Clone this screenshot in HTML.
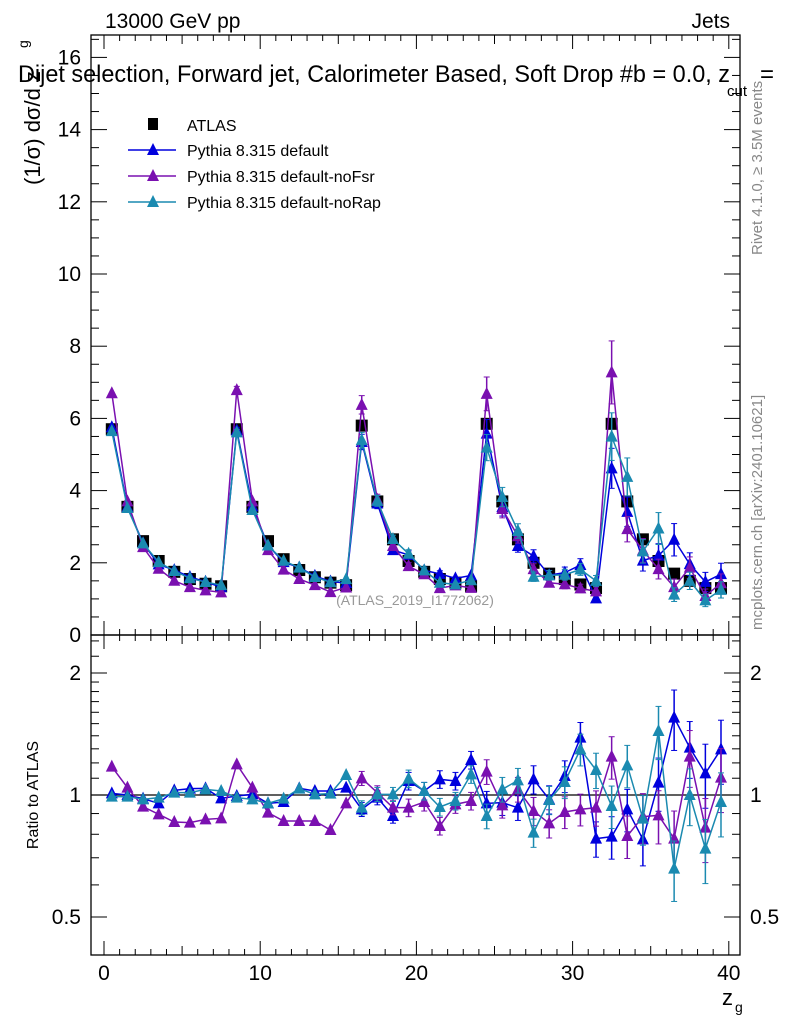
<!DOCTYPE html>
<html><head><meta charset="utf-8"><style>
body{margin:0;background:#fff;}
svg text{font-family:"Liberation Sans",sans-serif;}
</style></head><body>
<svg id="c" width="786" height="1024" xmlns="http://www.w3.org/2000/svg"></svg>
<script>
const bins=[0.5,1.5,2.5,3.5,4.5,5.5,6.5,7.5,8.5,9.5,10.5,11.5,12.5,13.5,14.5,15.5,16.5,17.5,18.5,19.5,20.5,21.5,22.5,23.5,24.5,25.5,26.5,27.5,28.5,29.5,30.5,31.5,32.5,33.5,34.5,35.5,36.5,37.5,38.5,39.5];
const atlasVals=[5.7,3.55,2.6,2.05,1.75,1.55,1.42,1.35,5.7,3.55,2.6,2.1,1.8,1.6,1.45,1.38,5.8,3.7,2.65,2.05,1.75,1.55,1.45,1.35,5.85,3.7,2.65,2.0,1.7,1.55,1.4,1.3,5.85,3.7,2.65,2.05,1.7,1.5,1.3,1.3];
const defaultPx=[342,347,358,372,333,328,327,357,350,345,372,368,327,335,335,325,390,355,410,305,335,300,305,242,372,370,385,300,360,290,175,478,472,390,480,310,115,205,282,210];
const noFsrPx=[262,325,382,405,428,430,420,417,255,325,400,425,425,425,452,372,297,340,385,385,368,440,375,365,277,378,330,395,432,398,390,385,232,470,412,408,478,232,445,295];
const noRapPx=[352,352,360,355,340,340,330,335,355,360,372,358,328,345,343,287,385,345,345,298,335,383,365,285,410,330,303,460,362,308,210,272,380,258,418,155,568,347,508,368];
const relErr=[0.01,0.01,0.01,0.01,0.01,0.01,0.01,0.01,0.015,0.015,0.015,0.015,0.015,0.015,0.015,0.015,0.04,0.04,0.04,0.05,0.05,0.05,0.05,0.05,0.07,0.07,0.07,0.08,0.08,0.09,0.09,0.1,0.12,0.12,0.14,0.15,0.17,0.16,0.18,0.18];
const yTicks=[0,2,4,6,8,10,12,14,16];
const xTicks=[0,10,20,30,40];
const rTicks=[0.5,1,2];
const toR=a=>a.map(v=>Math.exp((347-v)/528));
const ratios=[toR(defaultPx),toR(noFsrPx),toR(noRapPx)];
const names=["Pythia 8.315 default","Pythia 8.315 default-noFsr","Pythia 8.315 default-noRap"];
const colors=["#0000dd","#7a10b0","#1a8ab0"];

const L=91,R=740,T=35,B=635,RB=955;
const X=v=>104+v*15.62;
const Y=v=>635-v*36.1;
const RY=r=>795-176*Math.log(r);
const svg=document.getElementById('c');
const NS="http://www.w3.org/2000/svg";
function mk(t,a,p){const e=document.createElementNS(NS,t);for(const k in a)e.setAttribute(k,a[k]);(p||svg).appendChild(e);return e;}
function txt(s,a){const e=mk('text',a);e.textContent=s;return e;}

const defs=mk('defs',{});
const c1=mk('clipPath',{id:'cm'},defs);mk('rect',{x:L,y:T,width:R-L,height:B-T},c1);
const c2=mk('clipPath',{id:'cr'},defs);mk('rect',{x:L,y:B,width:R-L,height:RB-B},c2);

const f1=mk('rect',{x:L,y:T,width:R-L,height:B-T,fill:'none',stroke:'#000','stroke-width':1.3});

const f2=mk('rect',{x:L,y:B,width:R-L,height:RB-B,fill:'none',stroke:'#000','stroke-width':1.3});


for(let v=0;v<=40;v++){
 const major=v%10===0, mid=v%5===0;
 const len=major?14:(mid?9:6);
 for(const [yb,yt] of [[B,T],[RB,B]]){
  mk('line',{x1:X(v),x2:X(v),y1:yb,y2:yb-len,stroke:'#000'});
  mk('line',{x1:X(v),x2:X(v),y1:yt,y2:yt+len,stroke:'#000'});
 }
}
xTicks.forEach(v=>{const t=txt(String(v),{x:X(v),y:980,'font-size':21,'text-anchor':'middle'});
 });
for(let v=0;v<=16.6;v+=0.5){
 const major=Math.abs(v%2)<1e-6;const len=major?16:8;
 mk('line',{x1:L,x2:L+len,y1:Y(v),y2:Y(v),stroke:'#000'});
 mk('line',{x1:R,x2:R-len,y1:Y(v),y2:Y(v),stroke:'#000'});
}
yTicks.forEach(v=>{const t=txt(String(v),{x:81,y:Y(v)+7,'font-size':21,'text-anchor':'end'});
 });
const rminor=[0.5,0.6,0.7,0.8,0.9,1,1.1,1.2,1.3,1.4,1.5,1.6,1.7,1.8,1.9,2,2.2,2.4];
rminor.forEach(r=>{const major=rTicks.includes(r);const len=major?16:8;
 mk('line',{x1:L,x2:L+len,y1:RY(r),y2:RY(r),stroke:'#000'});
 mk('line',{x1:R,x2:R-len,y1:RY(r),y2:RY(r),stroke:'#000'});});
rTicks.forEach(r=>{
 const a=txt(String(r),{x:81,y:RY(r)+7,'font-size':21,'text-anchor':'end'});
 
 const b=txt(String(r),{x:750,y:RY(r)+7,'font-size':21,'text-anchor':'start'});
 });
mk('line',{x1:L,x2:R,y1:RY(1),y2:RY(1),stroke:'#000','stroke-width':1.3});

let t;
t=txt('13000 GeV pp',{x:105,y:28,'font-size':21});
t=txt('Jets',{x:730,y:28,'font-size':21,'text-anchor':'end'});
t=txt('(ATLAS_2019_I1772062)',{x:415,y:605,'font-size':14,fill:'#999','text-anchor':'middle'});
t=txt('z',{x:722,y:1005,'font-size':22});
txt('g',{x:735,y:1012,'font-size':14});
t=txt('Ratio to ATLAS',{x:0,y:0,'font-size':16,'text-anchor':'middle',transform:'translate(38,795) rotate(-90)'});
t=txt('(1/σ) dσ/d z',{x:0,y:0,'font-size':22,'text-anchor':'start',transform:'translate(40,185) rotate(-90)'});
txt('g',{x:0,y:0,'font-size':14,transform:'translate(28,48) rotate(-90)'});
t=txt('Dijet selection, Forward jet, Calorimeter Based, Soft Drop #b = 0.0, z',{x:18,y:82,'font-size':24,textLength:712,lengthAdjust:'spacingAndGlyphs'});
txt('cut',{x:727,y:96,'font-size':15});
txt('=',{x:760,y:82,'font-size':24});
t=txt('Rivet 4.1.0, ≥ 3.5M events',{x:0,y:0,'font-size':15,fill:'#888',transform:'translate(762,255) rotate(-90)'});
t=txt('mcplots.cern.ch [arXiv:2401.10621]',{x:0,y:0,'font-size':15,fill:'#888',transform:'translate(762,630) rotate(-90)'});

function tri(x,y,col,g){return mk('polygon',{points:`${x-6},${y+5} ${x+6},${y+5} ${x},${y-7}`,fill:col},g);}

const gd=mk('g',{'clip-path':'url(#cm)'});
bins.forEach((b,i)=>{const r=mk('rect',{x:X(b)-6,y:Y(atlasVals[i])-6,width:12,height:12,fill:'#000'},gd);
 });
[0,1,2].forEach(s=>{
 const g=mk('g',{'clip-path':'url(#cm)'});
 
 const vals=bins.map((b,i)=>ratios[s][i]*atlasVals[i]);
 mk('polyline',{points:bins.map((b,i)=>X(b)+','+Y(vals[i])).join(' '),fill:'none',stroke:colors[s],'stroke-width':1.5},g);
 bins.forEach((b,i)=>{const e=vals[i]*relErr[i];
  if(e*36.1>3){mk('line',{x1:X(b),x2:X(b),y1:Y(vals[i]-e),y2:Y(vals[i]+e),stroke:colors[s],'stroke-width':1.5},g);
   mk('line',{x1:X(b)-3,x2:X(b)+3,y1:Y(vals[i]-e),y2:Y(vals[i]-e),stroke:colors[s]},g);
   mk('line',{x1:X(b)-3,x2:X(b)+3,y1:Y(vals[i]+e),y2:Y(vals[i]+e),stroke:colors[s]},g);}
  const p=tri(X(b),Y(vals[i]),colors[s],g);});
 const gr=mk('g',{'clip-path':'url(#cr)'});
 
 mk('polyline',{points:bins.map((b,i)=>X(b)+','+RY(ratios[s][i])).join(' '),fill:'none',stroke:colors[s],'stroke-width':1.5},gr);
 bins.forEach((b,i)=>{const r=ratios[s][i],e=r*relErr[i];
  if(e>0.02){mk('line',{x1:X(b),x2:X(b),y1:RY(r-e),y2:RY(r+e),stroke:colors[s],'stroke-width':1.5},gr);
   mk('line',{x1:X(b)-3,x2:X(b)+3,y1:RY(r-e),y2:RY(r-e),stroke:colors[s]},gr);
   mk('line',{x1:X(b)-3,x2:X(b)+3,y1:RY(r+e),y2:RY(r+e),stroke:colors[s]},gr);}
  const p=tri(X(b),RY(r),colors[s],gr);});
});

const lg=mk('g',{});
mk('rect',{x:148,y:118,width:10,height:12,fill:'#000'},lg);
let le=txt('ATLAS',{x:187,y:131,'font-size':16});lg.appendChild(le);
names.forEach((n,s)=>{const y=150+s*26;
 mk('line',{x1:128,x2:176,y1:y,y2:y,stroke:colors[s],'stroke-width':1.5},lg);
 tri(153,y,colors[s],lg);
 const e=txt(n,{x:187,y:y+6,'font-size':16});lg.appendChild(e);});
</script>
</body></html>
